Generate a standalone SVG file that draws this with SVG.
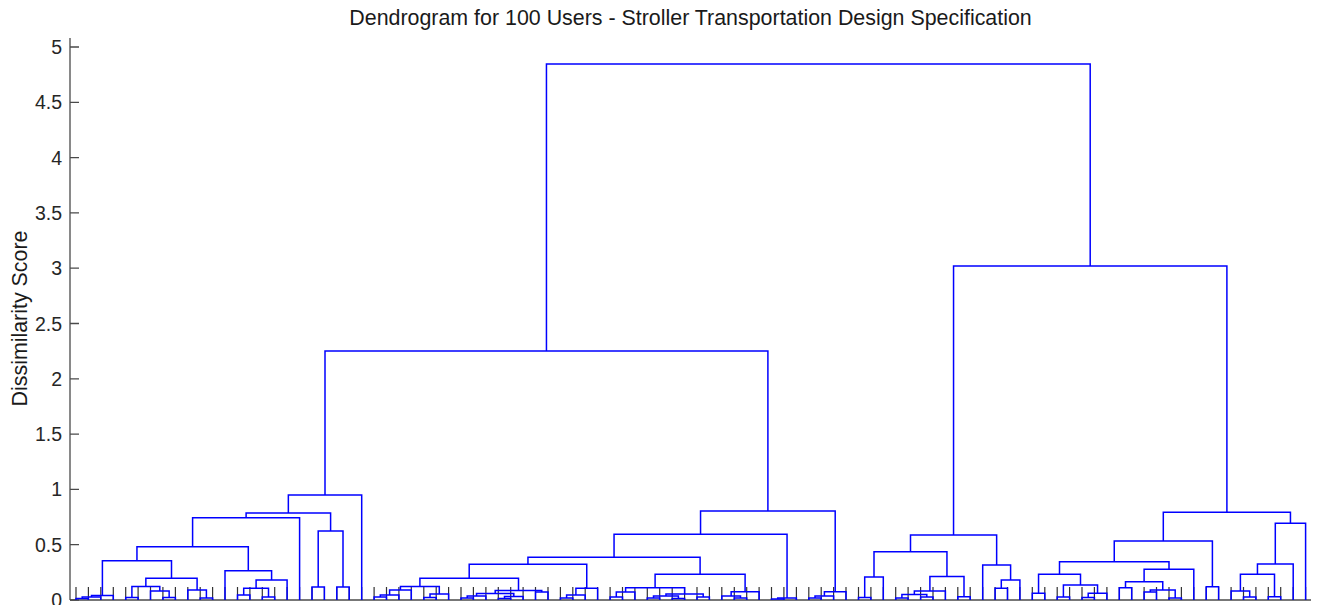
<svg xmlns="http://www.w3.org/2000/svg" width="1319" height="605" viewBox="0 0 1319 605">
<style>
.ax{stroke:#4a4a4a;stroke-width:1.3;fill:none}
.tk{stroke:#333;stroke-width:1.2;fill:none}
.lk{stroke:#0000ff;stroke-width:1.5;fill:none;stroke-linejoin:miter}
.tl{font-family:"Liberation Sans",Arial,sans-serif;font-size:19.5px;fill:#262626;text-anchor:end}
.tt{font-family:"Liberation Sans",Arial,sans-serif;font-size:21.4px;fill:#1a1a1a;text-anchor:middle}
</style>
<rect width="1319" height="605" fill="#fff"/>
<text id="title" class="tt" x="690.5" y="25">Dendrogram for 100 Users - Stroller Transportation Design Specification</text>
<text id="ylabel" class="tt" transform="translate(27,318.5) rotate(-90)">Dissimilarity Score</text>
<g id="yaxis">
<path class="ax" d="M70,38V600"/>
<path class="ax" d="M70,600H79M70,544.7H79M70,489.4H79M70,434.1H79M70,378.8H79M70,323.5H79M70,268.2H79M70,212.9H79M70,157.6H79M70,102.3H79M70,47H79"/>
<g id="ytick-labels">
<text class="tl" x="62" y="607">0</text>
<text class="tl" x="62" y="551.7">0.5</text>
<text class="tl" x="62" y="496.4">1</text>
<text class="tl" x="62" y="441.1">1.5</text>
<text class="tl" x="62" y="385.8">2</text>
<text class="tl" x="62" y="330.5">2.5</text>
<text class="tl" x="62" y="275.2">3</text>
<text class="tl" x="62" y="219.9">3.5</text>
<text class="tl" x="62" y="164.6">4</text>
<text class="tl" x="62" y="109.3">4.5</text>
<text class="tl" x="62" y="54">5</text>
</g>
</g>
<g id="xaxis">
<path class="ax" d="M70,600H1311"/>
<path class="tk" d="M76,587V600M88.4,587V600M100.8,587V600M113.3,587V600M125.7,587V600M138.1,587V600M150.5,587V600M162.9,587V600M175.4,587V600M187.8,587V600M200.2,587V600M212.6,587V600M225,587V600M237.5,587V600M249.9,587V600M262.3,587V600M274.7,587V600M287.1,587V600M299.6,587V600M312,587V600M324.4,587V600M336.8,587V600M349.2,587V600M361.7,587V600M374.1,587V600M386.5,587V600M398.9,587V600M411.3,587V600M423.8,587V600M436.2,587V600M448.6,587V600M461,587V600M473.4,587V600M485.9,587V600M498.3,587V600M510.7,587V600M523.1,587V600M535.5,587V600M548,587V600M560.4,587V600M572.8,587V600M585.2,587V600M597.6,587V600M610.1,587V600M622.5,587V600M634.9,587V600M647.3,587V600M659.7,587V600M672.2,587V600M684.6,587V600M697,587V600M709.4,587V600M721.8,587V600M734.3,587V600M746.7,587V600M759.1,587V600M771.5,587V600M783.9,587V600M796.4,587V600M808.8,587V600M821.2,587V600M833.6,587V600M846,587V600M858.5,587V600M870.9,587V600M883.3,587V600M895.7,587V600M908.1,587V600M920.6,587V600M933,587V600M945.4,587V600M957.8,587V600M970.2,587V600M982.7,587V600M995.1,587V600M1007.5,587V600M1019.9,587V600M1032.3,587V600M1044.8,587V600M1057.2,587V600M1069.6,587V600M1082,587V600M1094.4,587V600M1106.9,587V600M1119.3,587V600M1131.7,587V600M1144.1,587V600M1156.5,587V600M1169,587V600M1181.4,587V600M1193.8,587V600M1206.2,587V600M1218.6,587V600M1231.1,587V600M1243.5,587V600M1255.9,587V600M1268.3,587V600M1280.7,587V600M1293.2,587V600M1305.6,587V600"/>
</g>
<g id="connectors" class="lk">
<g id="cluster-a">
<path id="n01" d="M76,600V598.5H88.4V600"/>
<path id="n012" d="M82.2,598.5V597H100.8V600"/>
<path id="n0123" d="M91.5,597V595.5H113.3V600"/>
<path id="n45" d="M125.7,600V597.5H138.1V600"/>
<path id="n78" d="M162.9,600V597.5H175.4V600"/>
<path id="n678" d="M150.5,600V591H169.15V597.5"/>
<path id="n4_8" d="M131.9,597.5V586.5H159.8V591"/>
<path id="n1011" d="M200.2,600V598H212.6V600"/>
<path id="n9_11" d="M187.8,600V590H206.4V598"/>
<path id="n4_11" d="M145.85,586.5V578.3H197.1V590"/>
<path id="n0_11" d="M102.4,595.5V560.7H171.5V578.3"/>
<path id="n1314" d="M237.5,600V595H249.9V600"/>
<path id="n1516" d="M262.3,600V597H274.7V600"/>
<path id="n13_16" d="M243.7,595V588.3H268.5V597"/>
<path id="n13_17" d="M256.1,588.3V580H287.1V600"/>
<path id="n12_17" d="M225,600V570.7H271.6V580"/>
<path id="n0_17" d="M136.95,560.7V546.7H248.3V570.7"/>
<path id="n0_18" d="M192.6,546.7V517.7H299.6V600"/>
<path id="n1920" d="M312,600V587H324.4V600"/>
<path id="n2122" d="M336.8,600V587H349.2V600"/>
<path id="n19_22" d="M318.2,587V531H343V587"/>
<path id="n0_22" d="M246.1,517.7V513H330.6V531"/>
<path id="n0_23" d="M288.35,513V495H361.7V600"/>
</g>
<g id="cluster-b">
<path id="n2425" d="M374.1,600V597H386.5V600"/>
<path id="n24_26" d="M380.3,597V595H398.9V600"/>
<path id="n24_27" d="M389.6,595V590H411.3V600"/>
<path id="n2829" d="M423.8,600V597.5H436.2V600"/>
<path id="n28_30" d="M430,597.5V594H448.6V600"/>
<path id="n24_30" d="M400.45,590V586.5H439.3V594"/>
<path id="n3132" d="M461,600V598H473.4V600"/>
<path id="n31_33" d="M467.2,598V596H485.9V600"/>
<path id="n3435" d="M498.3,600V598.5H510.7V600"/>
<path id="n34_36" d="M504.5,598.5V596.5H523.1V600"/>
<path id="n31_36" d="M476.55,596V593.5H513.8V596.5"/>
<path id="n3738" d="M535.5,600V592H548V600"/>
<path id="n31_38" d="M495.2,593.5V590.5H541.75V592"/>
<path id="n24_38" d="M419.9,586.5V578.3H518.5V590.5"/>
<path id="n3940" d="M560.4,600V598H572.8V600"/>
<path id="n39_41" d="M566.6,598V595H585.2V600"/>
<path id="n39_42" d="M575.9,595V588.3H597.6V600"/>
<path id="n24_42" d="M469.2,578.3V564.3H586.75V588.3"/>
<path id="n4344" d="M610.1,600V597H622.5V600"/>
<path id="n43_45" d="M616.3,597V592H634.9V600"/>
<path id="n4647" d="M647.3,600V598H659.7V600"/>
<path id="n4849" d="M672.2,600V598.5H684.6V600"/>
<path id="n46_49" d="M653.5,598V596H678.4V598.5"/>
<path id="n5051" d="M697,600V597H709.4V600"/>
<path id="n46_51" d="M665.95,596V594H703.2V597"/>
<path id="n43_51" d="M625.6,592V587.7H684.6V594"/>
<path id="n5354" d="M734.3,600V598H746.7V600"/>
<path id="n52_54" d="M721.8,600V596H740.5V598"/>
<path id="n52_55" d="M731.15,596V591.7H759.1V600"/>
<path id="n43_55" d="M655.1,587.7V574.3H745.1V591.7"/>
<path id="n24_55" d="M527.95,564.3V557.3H700.1V574.3"/>
<path id="n5657" d="M771.5,600V599H783.9V600"/>
<path id="n56_58" d="M777.7,599V598H796.4V600"/>
<path id="n24_58" d="M614.05,557.3V534.3H787.05V598"/>
<path id="n5960" d="M808.8,600V598H821.2V600"/>
<path id="n59_61" d="M815,598V596H833.6V600"/>
<path id="n59_62" d="M824.4,596V591.7H846V600"/>
<path id="n24_62" d="M700.55,534.3V511H835.2V591.7"/>
</g>
<g id="cluster-c">
<path id="n6364" d="M858.5,600V597.5H870.9V600"/>
<path id="n63_65" d="M864.7,597.5V577H883.3V600"/>
<path id="n6667" d="M895.7,600V598H908.1V600"/>
<path id="n6869" d="M920.6,600V597H933V600"/>
<path id="n66_69" d="M901.9,598V594.5H926.8V597"/>
<path id="n66_70" d="M914.35,594.5V591H945.4V600"/>
<path id="n7172" d="M957.8,600V596.7H970.2V600"/>
<path id="n66_72" d="M929.9,591V576.5H964V596.7"/>
<path id="n63_72" d="M874,577V551.7H946.95V576.5"/>
<path id="n7475" d="M995.1,600V588.3H1007.5V600"/>
<path id="n74_76" d="M1001.3,588.3V580H1019.9V600"/>
<path id="n73_76" d="M982.7,600V565H1010.6V580"/>
<path id="n63_76" d="M910.5,551.7V535H996.65V565"/>
</g>
<g id="cluster-d">
<path id="n7778" d="M1032.3,600V593.3H1044.8V600"/>
<path id="n7980" d="M1057.2,600V597H1069.6V600"/>
<path id="n8182" d="M1082,600V597.5H1094.4V600"/>
<path id="n81_83" d="M1088.2,597.5V593.3H1106.9V600"/>
<path id="n79_83" d="M1063.4,597V585H1097.55V593.3"/>
<path id="n77_83" d="M1038.55,593.3V574.3H1080.5V585"/>
<path id="n8485" d="M1119.3,600V587.7H1131.7V600"/>
<path id="n8687" d="M1144.1,600V592H1156.5V600"/>
<path id="n8889" d="M1169,600V598H1181.4V600"/>
<path id="n86_89" d="M1150.3,592V590H1175.2V598"/>
<path id="n84_89" d="M1125.5,587.7V581.7H1162.75V590"/>
<path id="n84_90" d="M1144.1,581.7V569.3H1193.8V600"/>
<path id="n77_90" d="M1059.5,574.3V561.7H1169V569.3"/>
<path id="n9192" d="M1206.2,600V586.7H1218.6V600"/>
<path id="n77_92" d="M1114.25,561.7V541H1212.4V586.7"/>
<path id="n9495" d="M1243.5,600V597H1255.9V600"/>
<path id="n93_95" d="M1231.1,600V591H1249.7V597"/>
<path id="n9697" d="M1268.3,600V596.7H1280.7V600"/>
<path id="n93_97" d="M1240.4,591V574.3H1274.5V596.7"/>
<path id="n93_98" d="M1257.45,574.3V564H1293.2V600"/>
<path id="n93_99" d="M1275.3,564V523.3H1305.6V600"/>
<path id="n77_99" d="M1163.3,541V512.3H1290.45V523.3"/>
</g>
<g id="top-merges">
<path id="n0_62" d="M325,495V351H767.9V511"/>
<path id="n63_99" d="M953.55,535V266H1226.9V512.3"/>
<path id="root" d="M546.45,351V64H1090.2V266"/>
</g>
</g>
</svg>
